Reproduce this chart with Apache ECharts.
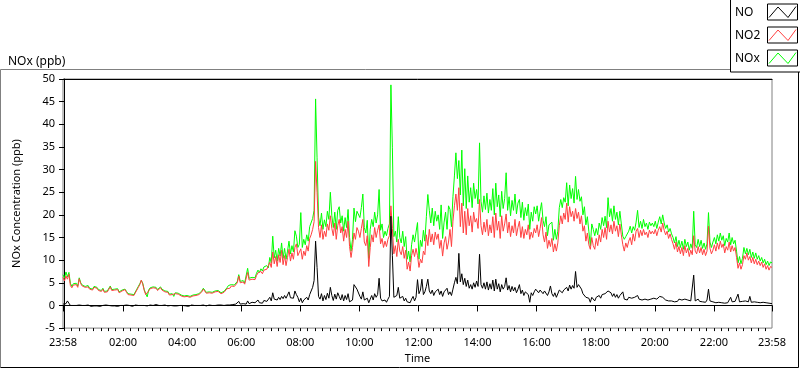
<!DOCTYPE html>
<html>
<head>
<meta charset="utf-8">
<script src="https://cdn.jsdelivr.net/npm/echarts@6/dist/echarts.min.js"></script>
<style>
html,body{margin:0;padding:0;background:#fff;}
#c{width:800px;height:369px;}
</style>
</head>
<body>
<div id="c"></div>
<script>
// Each row = one 2-hour block sampled every 3 minutes, starting 23:58 (minute -2).
var startMinute = -2;
var blockMinutes = 120;
var stepMinutes = 3;

var xTickLabels = ['23:58','02:00','04:00','06:00','08:00','10:00','12:00','14:00','16:00','18:00','20:00','22:00','23:58'];
var xTickMinutes = [-2,120,240,360,480,600,720,840,960,1080,1200,1320,1438];
var yTicks = [-5,0,5,10,15,20,25,30,35,40,45,50];

var NO2 = [
[6.2,5.4,6.5,5.8,6.9,4.4,3.9,4.5,4.2,4.6,4.0,5.9,4.8,4.3,4.5,4.0,3.7,4.1,3.6,3.9,3.4,4.0,3.6,3.8,3.3,3.5,3.1,3.6,2.9,3.3,3.0,3.4,4.1,3.3,2.9,3.4,3.0,3.5,2.8,3.2],
[3.2,2.8,3.5,2.9,2.4,2.8,2.3,2.7,2.2,2.6,3.4,4.0,4.6,5.6,4.7,3.3,2.4,2.0,3.2,3.7,3.4,3.9,3.5,3.8,3.3,3.6,3.9,3.4,3.7,3.0,2.6,2.9,2.3,2.7,2.4,2.2,2.6,2.3,2.5,2.1],
[2.1,2.4,1.9,2.2,2.0,2.3,1.8,1.6,2.1,1.9,2.2,2.0,2.4,2.6,3.0,3.6,3.3,2.7,2.5,2.8,2.4,2.7,2.6,3.0,2.7,3.1,2.8,2.6,3.0,2.9,3.2,3.7,4.1,3.8,4.3,3.9,4.2,4.0,5.0,6.5],
[5.0,4.6,5.2,4.7,5.0,7.3,5.6,5.2,5.8,5.4,5.7,6.6,7.2,6.8,7.5,7.0,7.8,7.4,8.0,7.6,9.5,8.4,11.8,9.2,10.8,8.6,11.2,9.5,12.2,9.0,11.0,8.8,10.6,12.4,9.8,11.6,10.2,12.8,13.6,11.0],
[10.8,12.5,10.2,12.0,11.0,13.2,12.0,14.8,15.6,16.8,18.5,31.8,25.0,17.2,15.0,17.8,14.6,16.4,15.2,18.0,16.6,19.8,17.0,15.4,18.2,14.6,17.6,19.0,16.0,17.4,14.2,16.8,15.0,18.6,13.0,10.6,12.8,16.0,14.6,17.2],
[16.4,15.0,17.0,19.0,14.0,13.2,15.4,8.6,12.8,15.6,14.0,17.2,15.0,16.6,17.8,13.6,14.8,12.8,14.2,13.0,14.6,15.4,22.0,17.0,11.4,13.2,10.8,14.6,12.0,11.2,13.0,10.4,12.2,8.0,9.6,7.6,11.0,12.4,10.8,12.6],
[11.0,8.4,10.2,9.4,12.0,11.2,15.6,13.2,16.8,14.0,15.8,13.4,16.2,14.6,15.8,12.6,14.4,10.9,13.8,15.2,12.4,14.0,16.8,13.0,18.6,22.0,24.6,21.0,26.0,17.4,22.6,16.0,20.8,15.6,21.4,17.6,19.8,16.2,20.6,18.4],
[19.2,17.0,23.4,17.6,15.6,18.4,16.2,19.0,15.4,17.8,16.0,19.6,15.0,20.4,16.6,18.6,14.8,19.8,16.4,18.0,20.2,16.0,18.4,15.2,17.6,16.0,19.0,15.4,17.2,18.6,15.0,17.4,14.8,16.8,15.6,17.8,14.6,16.2,15.0,17.0],
[16.0,17.8,15.2,17.0,19.4,15.6,14.0,16.2,12.6,14.4,13.0,14.8,11.8,13.6,12.0,13.8,17.6,19.8,18.0,20.4,19.0,22.6,18.4,21.8,19.6,20.8,18.6,21.4,19.2,20.6,18.0,19.8,16.4,17.6,14.2,16.0,13.4,12.4,15.0,13.2],
[12.4,14.8,13.2,15.6,14.0,16.8,15.0,17.2,14.6,18.6,16.2,17.8,15.8,18.6,16.4,17.6,15.2,18.0,15.6,13.4,12.0,13.8,12.8,14.2,15.0,13.4,15.8,14.2,16.4,17.0,15.0,16.6,15.4,16.8,15.6,16.2,15.0,16.6,15.8,16.4],
[15.8,16.8,15.4,16.6,17.4,16.2,18.2,16.6,15.6,16.4,14.8,15.8,14.6,13.6,12.4,14.0,11.8,13.0,11.4,12.8,11.0,13.2,11.6,12.6,10.8,12.2,11.2,15.4,12.0,11.4,13.0,11.6,12.8,11.2,12.4,11.0,12.0,17.5,12.6,11.4],
[12.2,13.4,12.0,13.8,12.4,14.2,12.8,13.6,11.6,13.0,12.2,14.0,11.8,13.2,12.0,12.8,10.6,8.2,9.4,8.0,9.0,11.0,10.2,11.6,10.0,10.8,9.4,10.6,9.2,10.2,9.0,9.8,8.8,9.6,8.4,9.2,8.0,8.8,7.8,8.6],
[8.4]
];

var NOx = [
[6.8,6.0,7.4,6.3,7.3,4.9,4.2,4.8,4.4,4.9,4.3,6.1,5.0,4.5,4.8,4.2,3.9,4.4,3.8,4.1,3.6,4.2,3.9,4.0,3.5,3.8,3.3,3.8,3.1,3.5,3.2,3.6,4.3,3.5,3.1,3.6,3.2,3.7,3.0,3.4],
[3.4,3.0,3.6,3.1,2.6,3.0,2.5,2.9,2.4,2.8,3.6,4.2,4.8,5.5,4.9,3.5,2.6,1.9,3.4,3.9,3.6,4.1,3.7,4.0,3.5,3.8,4.1,3.6,3.9,3.2,2.8,3.1,2.5,2.9,2.6,2.0,2.8,2.5,2.7,2.3],
[2.3,2.6,2.1,2.4,2.2,2.5,2.0,1.8,2.3,2.1,2.4,2.2,2.6,2.8,3.2,3.8,3.5,2.9,2.7,3.0,2.6,2.9,2.8,3.2,2.9,3.3,3.0,2.8,3.2,3.1,3.4,3.9,4.4,4.0,4.6,4.2,4.5,4.3,5.3,6.8],
[5.3,4.9,5.5,5.0,5.4,8.2,6.0,5.6,6.2,5.8,6.1,7.1,7.8,7.3,8.1,7.6,8.5,8.1,8.8,8.3,10.6,9.4,15.3,10.5,12.2,9.8,12.6,10.9,13.8,10.4,12.6,10.2,12.0,14.2,11.4,13.2,11.8,16.5,15.3,12.8],
[13.5,20.5,12.8,14.6,13.4,15.6,14.2,17.4,17.8,19.2,21.0,45.6,32.6,19.5,17.6,20.4,16.8,18.9,17.4,20.8,19.0,25.0,19.8,17.2,20.6,16.8,21.0,21.8,18.2,19.8,16.4,19.4,17.2,21.2,15.0,12.0,14.6,21.5,18.5,20.8],
[21.0,19.4,21.6,24.6,17.2,16.0,18.8,10.4,16.8,19.0,17.4,20.6,18.2,20.0,25.6,16.6,18.0,15.0,16.4,15.4,17.0,18.0,48.7,34.8,15.2,16.4,14.0,19.6,15.0,13.8,16.4,13.0,15.2,10.2,12.0,9.6,13.4,15.6,14.0,16.2],
[18.3,10.2,14.4,13.0,16.6,14.2,19.6,24.5,21.0,18.2,21.5,17.6,20.8,18.6,20.0,16.8,22.2,14.8,18.4,20.6,16.8,22.0,21.2,17.4,24.0,28.6,33.7,28.0,32.0,24.4,34.3,22.0,30.2,21.4,28.6,22.8,26.0,21.6,27.0,23.6],
[25.6,22.4,35.9,23.0,20.6,24.2,21.2,24.8,20.4,23.4,21.0,25.8,20.0,27.0,21.8,24.4,19.6,25.2,21.4,23.6,29.3,21.0,24.0,19.8,23.2,21.0,24.6,20.2,22.6,23.4,19.4,22.8,18.8,21.6,19.8,22.4,16.8,20.6,18.6,21.8],
[20.2,22.0,18.6,20.8,22.7,18.8,17.4,19.6,15.4,17.8,17.6,18.4,14.4,16.8,14.6,16.4,21.6,23.4,21.6,23.8,22.8,27.1,22.0,26.6,23.6,25.8,22.6,28.5,23.4,25.6,23.0,24.0,20.0,21.8,17.8,19.6,16.4,13.2,18.0,16.8],
[15.4,17.0,15.6,18.2,16.8,19.4,17.6,19.7,17.2,23.8,19.6,21.4,18.6,22.0,19.0,20.6,17.8,20.8,18.0,15.3,14.6,15.2,14.8,16.4,17.5,16.0,17.4,16.6,18.4,21.0,17.2,18.6,17.0,19.0,17.4,18.2,16.8,18.4,17.6,18.2],
[17.4,18.6,17.0,18.4,19.6,18.0,20.0,18.2,17.0,17.8,16.2,17.0,15.8,15.0,13.8,15.2,13.0,14.4,12.8,14.2,12.4,14.6,13.0,14.0,12.2,13.6,12.6,20.8,13.4,12.8,14.6,13.0,14.4,12.6,13.8,12.4,13.6,20.5,14.0,12.8],
[14.0,15.0,13.6,15.6,14.2,16.0,14.4,15.4,13.2,14.8,14.0,16.0,13.4,15.0,13.6,14.4,12.0,9.4,10.8,9.2,10.4,12.8,11.4,12.6,11.2,12.4,10.6,11.8,10.4,11.6,10.2,11.0,9.8,10.6,9.4,10.2,9.0,9.8,8.8,9.6],
[9.4]
];

var NO = [
[0.3,0.6,0.4,1.0,0.5,0.0,-0.1,0.0,-0.2,0.0,-0.1,0.1,-0.1,0.0,-0.2,0.0,-0.1,0.1,-0.1,-0.2,0.0,-0.1,0.2,-0.1,0.0,-0.2,-0.1,0.0,-0.1,0.1,-0.2,0.0,-0.1,-0.1,0.2,-0.1,0.0,-0.2,-0.1,0.0],
[-0.1,0.0,-0.2,0.1,-0.1,0.0,-0.1,-0.2,0.0,0.1,-0.1,0.0,0.2,0.0,-0.1,0.0,-0.2,-0.1,0.0,0.1,-0.1,0.0,-0.1,0.2,-0.1,0.0,-0.2,0.0,-0.1,0.1,0.0,-0.1,-0.2,0.0,0.1,-0.1,0.0,-0.1,0.2,0.0],
[-0.1,0.0,0.1,-0.1,0.0,-0.2,0.0,0.1,-0.1,0.0,-0.1,0.0,0.1,0.0,-0.1,0.1,0.0,-0.1,0.0,0.1,-0.1,0.0,0.2,0.0,-0.1,0.1,0.0,0.1,-0.1,0.0,0.2,0.1,0.3,0.1,0.4,0.2,0.5,0.3,0.4,0.9],
[0.3,0.5,0.4,0.6,0.3,1.0,0.4,0.5,0.7,0.4,0.6,0.9,1.2,0.6,0.8,0.5,1.1,0.7,0.9,1.3,1.8,1.0,2.8,1.4,1.6,1.2,1.8,1.3,2.0,1.5,2.2,1.6,1.9,3.0,1.7,2.0,1.6,3.2,2.4,1.8],
[0.8,1.6,0.6,1.2,0.9,1.8,1.2,2.4,2.8,4.0,5.5,14.2,8.4,2.0,1.4,2.6,1.0,2.2,1.3,2.7,1.6,4.0,2.2,1.1,2.5,1.4,2.8,2.0,1.2,2.4,1.0,2.2,1.3,2.6,0.8,0.5,1.2,4.6,5.0,3.6],
[3.6,2.0,1.4,3.0,1.2,0.8,1.6,0.6,1.4,2.2,1.2,2.6,1.8,2.4,6.0,1.6,1.0,0.8,1.2,0.7,1.4,2.0,19.7,11.0,1.8,1.4,2.2,4.0,1.6,1.2,2.0,1.0,1.6,0.8,1.2,0.6,1.4,2.0,1.0,1.8],
[5.7,2.6,3.4,5.8,2.4,3.0,4.2,5.8,3.2,2.6,3.4,2.2,3.0,2.8,3.6,2.4,3.2,2.0,3.0,2.6,3.8,2.4,3.0,2.2,3.6,5.0,6.2,4.8,11.5,5.2,7.0,4.6,6.0,4.2,5.6,3.8,4.6,3.6,5.0,4.0],
[5.4,4.2,11.3,4.6,3.8,5.0,3.6,5.2,3.4,4.8,3.6,5.6,3.2,5.8,3.6,4.8,3.0,4.6,3.6,4.2,6.1,3.4,4.4,3.0,4.2,3.2,4.0,2.8,3.6,4.6,2.6,3.4,2.2,3.0,2.6,2.4,0.7,2.8,2.2,3.0],
[3.6,4.0,2.8,3.4,3.0,2.6,3.2,2.8,2.2,3.0,4.3,2.6,2.0,2.8,1.8,2.2,3.4,3.0,2.8,3.4,3.6,4.0,3.2,4.5,3.6,4.4,3.8,7.5,4.0,4.6,5.0,3.6,2.6,2.2,1.8,1.4,1.6,0.7,1.8,1.4],
[1.0,1.8,1.4,2.2,1.6,2.4,2.0,2.6,2.2,3.2,3.6,2.8,2.0,2.6,1.8,2.4,1.6,2.2,1.8,3.0,1.4,1.6,1.2,1.8,1.4,1.6,1.2,1.8,1.4,2.2,1.4,1.8,1.2,1.6,1.4,1.8,1.2,1.6,1.4,1.8],
[1.6,1.8,1.4,1.6,2.0,1.6,1.8,1.4,1.2,1.4,1.0,1.2,1.0,1.4,0.8,1.2,0.9,1.4,1.0,1.2,0.8,1.4,1.0,1.2,0.8,1.0,1.2,6.7,1.0,0.8,1.4,0.9,1.2,0.8,1.0,0.7,1.2,3.6,1.0,0.8],
[0.8,1.0,0.6,0.9,0.7,1.0,0.6,0.8,0.5,0.9,0.6,1.0,1.8,0.8,0.6,0.9,0.7,2.5,0.8,0.6,0.9,0.7,1.0,0.6,0.8,2.0,0.7,0.5,0.8,0.6,0.7,0.5,0.6,0.4,0.7,0.5,0.6,0.4,0.5,0.4],
[0.4]
];

var seriesNames = ['NO','NO2','NOx'];
var seriesColors = ['#000000','#ff4040','#00ff00'];

function pairs(rows){
  var out = [];
  for (var b = 0; b < rows.length; b++)
    for (var j = 0; j < rows[b].length; j++)
      out.push([startMinute + blockMinutes*b + stepMinutes*j, rows[b][j]]);
  return out;
}
function fmt(v){
  var idx = xTickMinutes.indexOf(Math.round(v));
  return idx >= 0 ? xTickLabels[idx] : '';
}
var minorTicks = [];
for (var t = 0; t < 1440; t += 15) minorTicks.push(t);

var FONT = 'Noto Sans';
var chart = echarts.init(document.getElementById('c'), null, {renderer:'canvas'});

var gfx = [];
var legendY = [12.5, 35.5, 58.5];
gfx.push({type:'rect', shape:{x:730.5, y:-1, width:80, height:73}, style:{fill:'#fff', stroke:'#000', lineWidth:1}, z:10});
for (var k = 0; k < 3; k++){
  var cy = legendY[k];
  gfx.push({type:'text', x:735, y:cy, style:{text:seriesNames[k], font:'12px "'+FONT+'"', fill:'#000', verticalAlign:'middle'}, z:11});
  gfx.push({type:'rect', shape:{x:767.5, y:cy-8.5, width:30, height:16}, style:{fill:'#fff', stroke:'#000', lineWidth:1}, z:11});
  gfx.push({type:'polyline', shape:{points:[[769,cy+5],[778,cy-5.5],[788,cy+5],[796,cy-6]]}, style:{stroke:seriesColors[k], lineWidth:1, fill:null}, z:12});
}
gfx.push({type:'polyline', shape:{points:[[730,69.5],[0.5,69.5],[0.5,367.5]]}, style:{stroke:'#808080', lineWidth:1, fill:null}, z:5});
gfx.push({type:'polyline', shape:{points:[[0.5,367.5],[798.5,367.5],[798.5,72]]}, style:{stroke:'#000', lineWidth:1, fill:null}, z:5});

var option = {
  animation:false,
  backgroundColor:'#fff',
  textStyle:{fontFamily:FONT},
  title:{text:'NOx (ppb)', left:3, top:51, textStyle:{fontSize:12, fontWeight:'normal', color:'#000', fontFamily:FONT}},
  grid:{left:63, top:79, width:709, height:250, show:true, borderColor:'#808080', borderWidth:1, backgroundColor:'#fff'},
  xAxis:[
    {type:'value', min:-2, max:1438, position:'bottom',
     name:'Time', nameLocation:'middle', nameGap:23, nameTextStyle:{fontSize:11, color:'#000', fontFamily:FONT},
     axisLine:{show:true, lineStyle:{color:'#000', width:1}},
     axisTick:{show:true, length:6, customValues:xTickMinutes, lineStyle:{color:'#000'}},
     axisLabel:{show:true, customValues:xTickMinutes, formatter:function(v){return fmt(v);}, fontSize:11, color:'#000', margin:9, fontFamily:FONT},
     splitLine:{show:false}},
    {type:'value', min:-2, max:1438, position:'bottom', gridIndex:0,
     axisLine:{show:false},
     axisTick:{show:true, length:3, customValues:minorTicks, lineStyle:{color:'#000'}},
     axisLabel:{show:false}, splitLine:{show:false}},
    {type:'value', min:-2, max:1438, position:'top', gridIndex:0,
     axisLine:{show:true, lineStyle:{color:'#000'}}, axisTick:{show:false}, axisLabel:{show:false}, splitLine:{show:false}}
  ],
  yAxis:{type:'value', min:yTicks[0], max:yTicks[yTicks.length-1], interval:5,
    name:'NOx Concentration (ppb)', nameLocation:'middle', nameGap:41, nameRotate:90,
    nameTextStyle:{fontSize:11, color:'#000', fontFamily:FONT},
    axisLine:{show:true, lineStyle:{color:'#000'}},
    axisTick:{show:true, length:5, lineStyle:{color:'#000'}},
    axisLabel:{fontSize:11, color:'#000', margin:8, fontFamily:FONT},
    splitLine:{show:false}},
  graphic:gfx,
  series:[
    {name:'NOx', type:'line', data:pairs(NOx), showSymbol:false, symbol:'none', lineStyle:{color:seriesColors[2], width:1}, itemStyle:{color:seriesColors[2]}, z:2},
    {name:'NO2', type:'line', data:pairs(NO2), showSymbol:false, symbol:'none', lineStyle:{color:seriesColors[1], width:1}, itemStyle:{color:seriesColors[1]}, z:3},
    {name:'NO', type:'line', data:pairs(NO), showSymbol:false, symbol:'none', lineStyle:{color:seriesColors[0], width:1}, itemStyle:{color:seriesColors[0]}, z:4}
  ]
};
chart.setOption(option);
</script>
</body>
</html>
